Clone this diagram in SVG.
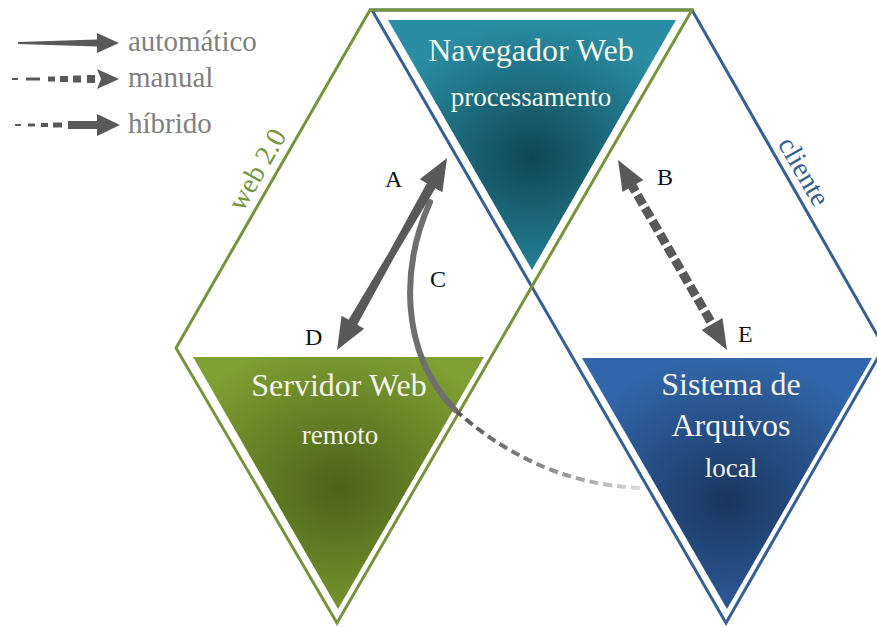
<svg xmlns="http://www.w3.org/2000/svg" width="877" height="627" viewBox="0 0 877 627">
<style>
.outline{fill:none;stroke-width:3;stroke-linejoin:miter}
.ttl{font-family:"Liberation Serif","Times New Roman",serif;fill:#f3f3e8;text-anchor:middle}
.big{font-size:32px}
.small{font-size:27px}
.lbl{font-family:"Liberation Serif","Times New Roman",serif;font-size:24px;fill:#111}
.leg{font-family:"Liberation Serif","Times New Roman",serif;font-size:29px;fill:#808080}
.arr{fill:#595959}
</style>
<defs>
<radialGradient id="gTeal" cx="0.5" cy="0.55" r="0.55">
<stop offset="0" stop-color="#0f4655"/>
<stop offset="1" stop-color="#2a8da3"/>
</radialGradient>
<radialGradient id="gGreen" cx="0.5" cy="0.52" r="0.6">
<stop offset="0" stop-color="#4a6219"/>
<stop offset="1" stop-color="#7fa033"/>
</radialGradient>
<radialGradient id="gBlue" cx="0.5" cy="0.57" r="0.58">
<stop offset="0" stop-color="#1a365f"/>
<stop offset="1" stop-color="#3266aa"/>
</radialGradient>
<linearGradient id="fade" gradientUnits="userSpaceOnUse" x1="455" y1="0" x2="642" y2="0">
<stop offset="0" stop-color="#555"/>
<stop offset="0.6" stop-color="#999"/>
<stop offset="1" stop-color="#ddd"/>
</linearGradient>
</defs>

<g id="legend">
<polygon class="arr" points="18,42 97,39.5 97,33 119,43 97,53 97,46.5 18,44"/>
<text class="leg" x="128" y="51">automático</text>
<rect class="arr" x="12" y="78" width="6" height="2"/>
<rect class="arr" x="26" y="77.5" width="14" height="3"/>
<rect class="arr" x="48" y="76.5" width="7" height="5"/>
<rect class="arr" x="60" y="76" width="8" height="6"/>
<rect class="arr" x="73" y="75.5" width="8" height="7"/>
<rect class="arr" x="87" y="75" width="8" height="8"/>
<polygon class="arr" points="97,69 119,79 97,89 101,79"/>
<text class="leg" x="128" y="87">manual</text>
<rect class="arr" x="15" y="124" width="6" height="2"/>
<rect class="arr" x="28" y="123.5" width="7" height="3"/>
<rect class="arr" x="41" y="123" width="7" height="4"/>
<rect class="arr" x="53" y="122.5" width="9" height="5"/>
<rect class="arr" x="68" y="121" width="30" height="8"/>
<polygon class="arr" points="97,114 120,125 97,136"/>
<text class="leg" x="128" y="133">híbrido</text>
</g>

<g id="outline-cliente">
<polygon class="outline" stroke="#366092" points="372,10 692,10 884,347 726,623"/>
<text font-family="Liberation Serif, Times New Roman, serif" font-size="28" fill="#366092" text-anchor="middle" transform="translate(796,176) rotate(60)">cliente</text>
</g>

<g id="outline-web20">
<polygon class="outline" stroke="#77933c" points="176,348 370,10 692,10 337,623"/>
<text font-family="Liberation Serif, Times New Roman, serif" font-size="28" fill="#77933c" text-anchor="middle" transform="translate(265,174) rotate(-60)">web 2.0</text>
</g>

<g id="navegador">
<polygon fill="url(#gTeal)" points="388,20 676,20 532,270"/>
<text class="ttl big" x="531" y="61">Navegador Web</text>
<text class="ttl small" x="531" y="106">processamento</text>
</g>

<g id="servidor">
<polygon fill="url(#gGreen)" points="193,357 484,357 338,609"/>
<text class="ttl big" x="339" y="396">Servidor Web</text>
<text class="ttl small" x="340" y="444">remoto</text>
</g>

<g id="sistema">
<polygon fill="url(#gBlue)" points="582,358 872,358 727,609"/>
<text class="ttl big" x="731" y="395">Sistema de</text>
<text class="ttl big" x="731" y="436">Arquivos</text>
<text class="ttl small" x="731" y="477">local</text>
</g>

<g id="connectors">
<path d="M455 410 C500 450 560 485 642 488" fill="none" stroke="url(#fade)" stroke-width="4" stroke-dasharray="9 5"/>
<path d="M430 202 C402 265 398 350 455 410" fill="none" stroke="#6e6e6e" stroke-width="6" stroke-linecap="round"/>
<polygon class="arr" points="447,158 442.4,192.3 435.4,188.3 395,255.7 357.2,324.7 364.2,328.7 337,350 341.6,315.7 348.6,319.7 389,252.3 426.8,183.3 419.8,179.3"/>
<line x1="630" y1="182" x2="715" y2="329" stroke="#595959" stroke-width="9" stroke-dasharray="11 4"/>
<polygon class="arr" points="618,160 643.3,180 622.5,192"/>
<polygon class="arr" points="727,350 722.5,318 701.7,330"/>
</g>

<g id="labels">
<text class="lbl" x="385" y="187">A</text>
<text class="lbl" x="657" y="185">B</text>
<text class="lbl" x="430" y="287">C</text>
<text class="lbl" x="305" y="345">D</text>
<text class="lbl" x="738" y="342">E</text>
</g>
</svg>
